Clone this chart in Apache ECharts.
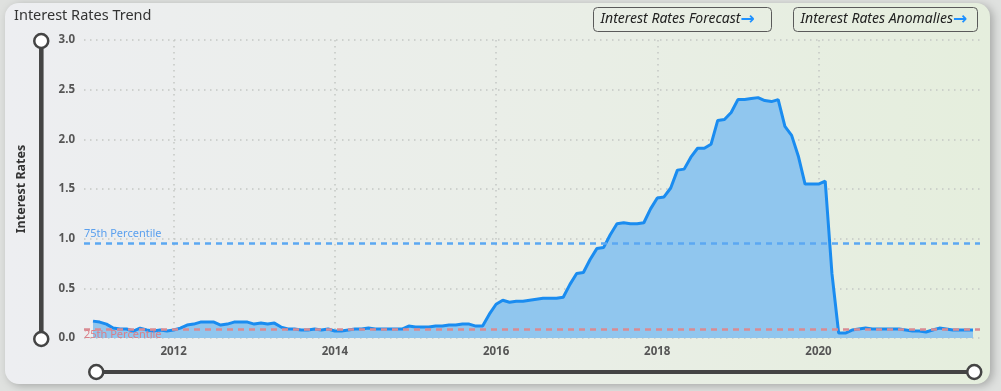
<!DOCTYPE html>
<html>
<head>
<meta charset="utf-8">
<script src="https://cdn.jsdelivr.net/npm/echarts@6/dist/echarts.min.js"></script>
<style>
html,body{margin:0;padding:0;background:#dfe1df;}
#c{width:1001px;height:391px;}
</style>
</head>
<body>
<div id="c"></div>
<script>
// ---- data ----
const years = [2011,2012,2013,2014,2015,2016,2017,2018,2019,2020,2021];
const monthNames = ['01','02','03','04','05','06','07','08','09','10','11','12'];
const rates2011 = [0.17,0.16,0.14,0.10,0.09,0.09,0.07,0.10,0.08,0.07,0.08,0.07];
const rates2012 = [0.08,0.10,0.13,0.14,0.16,0.16,0.16,0.13,0.14,0.16,0.16,0.16];
const rates2013 = [0.14,0.15,0.14,0.15,0.11,0.09,0.09,0.08,0.08,0.09,0.08,0.09];
const rates2014 = [0.07,0.07,0.08,0.09,0.09,0.10,0.09,0.09,0.09,0.09,0.09,0.12];
const rates2015 = [0.11,0.11,0.11,0.12,0.12,0.13,0.13,0.14,0.14,0.12,0.12,0.24];
const rates2016 = [0.34,0.38,0.36,0.37,0.37,0.38,0.39,0.40,0.40,0.40,0.41,0.54];
const rates2017 = [0.65,0.66,0.79,0.90,0.91,1.04,1.15,1.16,1.15,1.15,1.16,1.30];
const rates2018 = [1.41,1.42,1.51,1.69,1.70,1.82,1.91,1.91,1.95,2.19,2.20,2.27];
const rates2019 = [2.40,2.40,2.41,2.42,2.39,2.38,2.40,2.13,2.04,1.83,1.55,1.55];
const rates2020 = [1.55,1.58,0.65,0.05,0.05,0.08,0.09,0.10,0.09,0.09,0.09,0.09];
const rates2021 = [0.09,0.08,0.07,0.07,0.06,0.08,0.10,0.09,0.08,0.08,0.08,0.08];
const percentileValues = [0.95, 0.09];
const percentileLabels = ['75th Percentile', '25th Percentile'];
const labelYears = ['2012','2014','2016','2018','2020'];
const titleText = 'Interest Rates Trend';
const yAxisName = 'Interest Rates';
const buttonTexts = ['Interest Rates Forecast', 'Interest Rates Anomalies'];

// ---- build ----
const categories = [];
years.forEach(y => monthNames.forEach(m => categories.push(y + '-' + m)));
const rates = [].concat(rates2011,rates2012,rates2013,rates2014,rates2015,rates2016,rates2017,rates2018,rates2019,rates2020,rates2021);

const isLabelIdx = (idx) => {
  const c = categories[idx];
  return c.endsWith('-01') && labelYears.indexOf(c.slice(0,4)) >= 0;
};

const FONT = 'Noto Sans';
const GRIDLINE = {type:[1.5,4.5], color:'#c4c8c4', width:1.5};
const chart = echarts.init(document.getElementById('c'), null, {renderer:'canvas'});

function button(x, w, text) {
  return {
    type: 'group', left: x, top: 7,
    children: [
      {type:'rect', shape:{x:0,y:0,width:w,height:24,r:4}, style:{fill:'rgba(0,0,0,0)', stroke:'#5a5a5a', lineWidth:1}},
      {type:'text', x: 7, y: 12, style:{
        text: '{t|' + text + '}{a|→}',
        verticalAlign:'middle',
        rich: {
          t:{fontFamily:FONT, fontStyle:'italic', fontSize:14, fill:'#222'},
          a:{fontFamily:'DejaVu Sans', fontSize:17, fontWeight:'bold', fill:'#1e90ff'}
        }
      }}
    ]
  };
}

const option = {
  animation: false,
  textStyle: {fontFamily: FONT},
  graphic: [
    {type:'rect', z:-10, shape:{x:5,y:3,width:985,height:381,r:14},
      style:{
        fill: new echarts.graphic.LinearGradient(0,0,1,0,[{offset:0,color:'#edeef1'},{offset:0.5,color:'#eaeee8'},{offset:1,color:'#e5eedd'}]),
        shadowBlur: 8, shadowColor:'rgba(0,0,0,0.25)', shadowOffsetX: 3, shadowOffsetY: 2
      }},
    {type:'text', left:14, top:8, style:{text:titleText, fontFamily:FONT, fontSize:14.5, fill:'#333'}},
    button(593, 178, buttonTexts[0]),
    button(793, 184, buttonTexts[1])
  ],
  grid: [
    {left:84, right:21, top:40, bottom:53},
    {left:93, right:28, top:40, bottom:53}
  ],
  xAxis: [
    {type:'value', gridIndex:0, min:0, max:1, show:false},
    {type:'category', gridIndex:1, data:categories, boundaryGap:false,
      axisLine:{show:false}, axisTick:{show:false},
      axisLabel:{interval:(idx)=>isLabelIdx(idx), formatter:(v)=>v.slice(0,4), color:'#555', fontWeight:'bold', fontSize:11.5, margin:8},
      splitLine:{show:true, interval:(idx)=>isLabelIdx(idx), lineStyle:GRIDLINE}
    }
  ],
  yAxis: [
    {type:'value', gridIndex:0, min:0, max:3, interval:0.5,
      name: yAxisName, nameLocation:'middle', nameGap:56, nameRotate:90,
      nameTextStyle:{color:'#333', fontSize:12.5, fontWeight:'bold', fontFamily:FONT},
      axisLine:{show:false}, axisTick:{show:false},
      axisLabel:{color:'#555', fontWeight:'bold', fontSize:11.5, margin:9, formatter:(v)=>v.toFixed(1)},
      splitLine:{show:true, lineStyle:GRIDLINE}
    },
    {type:'value', gridIndex:1, min:0, max:3, interval:0.5, show:false, splitLine:{show:false}}
  ],
  dataZoom: [
    {type:'slider', xAxisIndex:1, filterMode:'none', left:93, right:28, bottom:17, height:4,
      showDataShadow:false, showDetail:false, brushSelect:false, moveHandleSize:0,
      backgroundColor:'#444', fillerColor:'#444', borderColor:'#444',
      dataBackground:{lineStyle:{opacity:0}, areaStyle:{opacity:0}},
      handleIcon:'circle', handleSize:14,
      handleStyle:{color:'#fff', borderColor:'#444', borderWidth:2.5}
    },
    {type:'slider', yAxisIndex:[0,1], filterMode:'none', orient:'vertical', left:38, width:4, top:40, bottom:51,
      showDataShadow:false, showDetail:false, brushSelect:false, moveHandleSize:0,
      backgroundColor:'#444', fillerColor:'#444', borderColor:'#444',
      dataBackground:{lineStyle:{opacity:0}, areaStyle:{opacity:0}},
      handleIcon:'circle', handleSize:14,
      handleStyle:{color:'#fff', borderColor:'#444', borderWidth:2.5}
    }
  ],
  series: [
    {type:'line', xAxisIndex:0, yAxisIndex:0, data:[], silent:true,
      markLine:{silent:true, symbol:'none',
        data:[
          {yAxis:percentileValues[0], lineStyle:{color:'#5ba8f2', type:[6,5], width:2.5},
            label:{show:true, position:'insideStartTop', formatter:percentileLabels[0], color:'#5ba0ee', fontSize:11, distance:[0,4], fontFamily:FONT}},
          {yAxis:percentileValues[1], lineStyle:{color:'#d98b92', type:[6,5], width:2.5},
            label:{show:true, position:'insideStartBottom', formatter:percentileLabels[1], color:'#db7f88', fontSize:11, distance:[0,0], fontFamily:FONT}}
        ]
      }
    },
    {type:'line', xAxisIndex:1, yAxisIndex:1, data:rates, showSymbol:false, symbol:'none',
      lineStyle:{color:'#1a8cf0', width:3},
      areaStyle:{color:'#90c6ee', opacity:1},
      z:1
    }
  ]
};
chart.setOption(option);
</script>
</body>
</html>
